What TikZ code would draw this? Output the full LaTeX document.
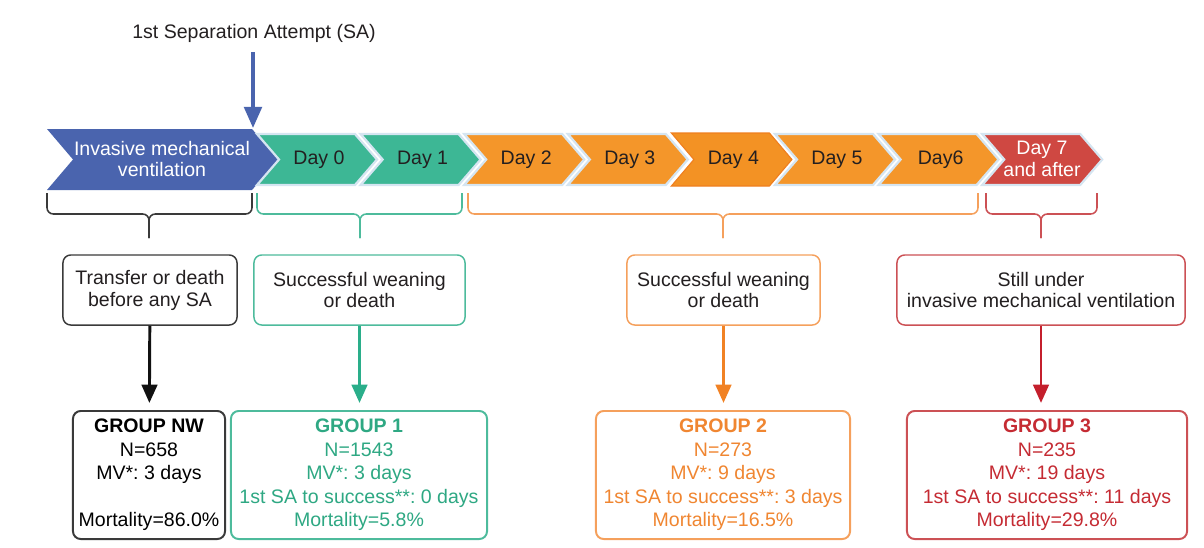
\documentclass[tikz,border=0pt]{standalone}
\usepackage{fontspec}
\setmainfont{Liberation Sans}
\usepackage{tikz}
\usetikzlibrary{arrows.meta}
\frenchspacing

\definecolor{ivblue}{HTML}{4A64AE}
\definecolor{dgreen}{HTML}{3DB795}
\definecolor{dorange}{HTML}{F4962A}
\definecolor{dfour}{HTML}{F39224}
\definecolor{dfouredge}{HTML}{EF7F1F}
\definecolor{dred}{HTML}{CF4842}
\definecolor{chevedge}{HTML}{D5E5F1}
\definecolor{daydark}{HTML}{231F20}
\definecolor{kedge}{HTML}{3A3A3A}
\definecolor{gedge}{HTML}{4DBB9C}
\definecolor{oedge}{HTML}{F5A05C}
\definecolor{redge}{HTML}{CC5155}
\definecolor{gtext}{HTML}{2EA883}
\definecolor{otext}{HTML}{F08631}
\definecolor{rtext}{HTML}{C52B33}
\definecolor{karrow}{HTML}{111111}
\definecolor{garrow}{HTML}{2AAE8A}
\definecolor{oarrow}{HTML}{F18224}
\definecolor{rarrow}{HTML}{C41F2C}

\def\txtfont{\fontsize{13.9}{15.6}\selectfont}
\def\grpfont{\fontsize{13.9}{16.7}\selectfont}

\tikzset{
  plain/.style={font=\txtfont, text=daydark, inner sep=0pt},
  chev/.style={draw=chevedge, line width=1.6pt, line join=miter},
  daytext/.style={font=\txtfont, text=daydark, align=center, inner sep=0pt},
  brace/.style={draw=#1, line width=1.1pt, rounded corners=4.5pt},
  outbox/.style={draw=#1, rounded corners=5.5pt, line width=1.05pt, fill=white,
    minimum height=1.75cm, align=center, font=\txtfont, text=daydark, inner sep=0pt},
  groupbox/.style={draw=#1, rounded corners=5.5pt, line width=1.4pt, fill=white,
    minimum height=3.2cm, align=center, font=\grpfont, inner sep=0pt},
  flow/.style={draw=#1, line width=2.1pt, -{Triangle[length=13pt,width=11pt]}}
}

\begin{document}
\begin{tikzpicture}[x=0.025cm, y=-0.025cm]
  \useasboundingbox (0,0) rectangle (1204,547);

  % first separation attempt
  \node[plain] (sa) at (254,33) {1st Separation Attempt (SA)};
  \coordinate (saend) at (253,128);
  \draw[flow=ivblue, line width=2.5pt, -{Triangle[length=15pt,width=12.5pt]}, shorten <=7pt]
    (sa.south -| saend) -- (saend);

  % timeline
  \fill[ivblue] (47,129) -- (252,129) -- (279,159.5) -- (252,190) -- (47,190) -- (73,159.5) -- cycle;
  \node[daytext, text=white] (imv) at (162,159) {Invasive mechanical\\ventilation};

  \filldraw[fill=dfour, draw=dfouredge, line width=0.8pt]
    (671.4,133) -- ++(98,0) -- ++(22.5,26.5) -- ++(-22.5,26.5) -- ++(-98,0) -- ++(22.5,-26.5) -- cycle;
  \node[daytext] (d4) at (733.4,159.5) {Day 4};

  \foreach \i/\col/\txt in {0/dgreen/Day 0,1/dgreen/Day 1,2/dorange/Day 2,
                            3/dorange/Day 3,5/dorange/Day 5,6/dorange/Day6} {
    \pgfmathsetmacro\l{257+103.6*\i}
    \filldraw[chev, fill=\col] (\l,134) -- ++(98,0) -- ++(22,25.5) -- ++(-22,25.5)
      -- ++(-98,0) -- ++(22,-25.5) -- cycle;
    \node[daytext] (d\i) at (\l+62,159.5) {\txt};
  }

  \filldraw[chev, fill=dred] (982.2,134) -- ++(98,0) -- ++(22,25.5) -- ++(-22,25.5)
    -- ++(-98,0) -- ++(22,-25.5) -- cycle;
  \node[daytext, text=white] (d7) at (1042,159) {Day 7\\and after};

  % brackets under the periods
  \foreach \l/\r/\c/\col in {47/252/149/kedge, 257/462/360/gedge,
                             468/978/723/oedge, 986/1097/1041/redge} {
    \draw[brace=\col] (\l,193) -- (\l,214) -- (\c,214) -- (\c,238);
    \draw[brace=\col] (\r,193) -- (\r,214) -- (\c,214) -- (\c,238);
  }

  % outcomes
  \node[outbox=kedge, minimum width=4.35cm] (tnw) at (150,290) {Transfer or death\\before any SA};
  \node[outbox=gedge, minimum width=5.275cm] (t1) at (359.5,290) {Successful weaning\\or death};
  \node[outbox=oedge, minimum width=4.825cm] (t2) at (723.5,290) {Successful weaning\\or death};
  \node[outbox=redge, minimum width=7.2cm] (t3) at (1041,290) {Still under\\invasive mechanical ventilation};

  % groups
  \node[groupbox=kedge, text=black, minimum width=3.8cm] (gnw) at (149,475)
    {\textbf{GROUP NW}\\N=658\\MV*: 3 days\\\mbox{}\\Mortality=86.0\%};
  \node[groupbox=gedge, text=gtext, minimum width=6.4cm] (g1) at (359,475)
    {\textbf{GROUP 1}\\N=1543\\MV*: 3 days\\1st SA to success**: 0 days\\Mortality=5.8\%};
  \node[groupbox=oedge, text=otext, minimum width=6.35cm] (g2) at (723,475)
    {\textbf{GROUP 2}\\N=273\\MV*: 9 days\\1st SA to success**: 3 days\\Mortality=16.5\%};
  \node[groupbox=redge, text=rtext, minimum width=7cm] (g3) at (1047,475)
    {\textbf{GROUP 3}\\N=235\\MV*: 19 days\\1st SA to success**: 11 days\\Mortality=29.8\%};

  \draw[flow=karrow, shorten >=5pt] (tnw) -- (gnw);
  \draw[flow=garrow, shorten >=5pt] (t1) -- (t1 |- g1.north);
  \draw[flow=oarrow, shorten >=5pt] (t2) -- (t2 |- g2.north);
  \draw[flow=rarrow, shorten >=5pt] (t3) -- (t3 |- g3.north);
\end{tikzpicture}
\end{document}
